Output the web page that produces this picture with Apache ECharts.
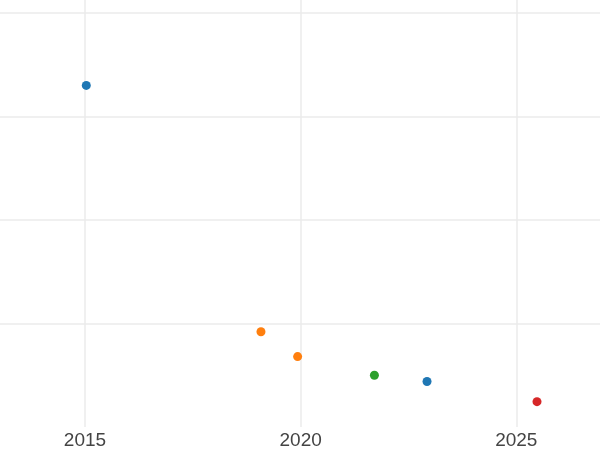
<!DOCTYPE html>
<html>
<head>
<meta charset="utf-8">
<script src="https://cdn.jsdelivr.net/npm/echarts@6/dist/echarts.min.js"></script>
<style>html,body{margin:0;padding:0;background:#fff}#c{width:600px;height:450px}</style>
</head>
<body>
<div id="c"></div>
<script>
const blueYears = [2015.03, 2022.93];
const blueValues = [3.30, 0.44];
const orangeYears = [2019.08, 2019.93];
const orangeValues = [0.92, 0.68];
const greenYears = [2021.71];
const greenValues = [0.50];
const redYears = [2025.48];
const redValues = [0.245];
const xTicks = [2015, 2020, 2025];
const yTicks = [1, 2, 3, 4];

function pts(xs, ys) { return xs.map((x, i) => [x, ys[i]]); }

const chart = echarts.init(document.getElementById('c'), null, {renderer: 'canvas'});
const mk = (name, xs, ys, color) => ({
  name, type: 'scatter', data: pts(xs, ys), symbolSize: 9,
  itemStyle: {color: color, opacity: 1}, emphasis: {disabled: true}
});
chart.setOption({
  animation: false,
  backgroundColor: '#ffffff',
  grid: {left: 0, right: 0, top: 0, bottom: 22.4, containLabel: false},
  xAxis: {
    type: 'value', min: 2013.029, max: 2026.941,
    axisLine: {show: false},
    axisTick: {show: false, customValues: xTicks},
    axisLabel: {
      show: true, color: '#444444', fontSize: 19, fontFamily: 'Liberation Sans', margin: 4,
      customValues: xTicks, formatter: v => String(Math.round(v))
    },
    splitLine: {show: true, showMinLine: true, showMaxLine: true, lineStyle: {color: '#ebebeb', width: 1.5}}
  },
  yAxis: {
    type: 'value', min: 0, max: 4.1253,
    axisLine: {show: false},
    axisTick: {show: false, customValues: yTicks},
    axisLabel: {show: false, customValues: yTicks},
    splitLine: {show: true, lineStyle: {color: '#ebebeb', width: 1.5}}
  },
  series: [
    mk('A', blueYears, blueValues, '#1f77b4'),
    mk('B', orangeYears, orangeValues, '#ff7f0e'),
    mk('C', greenYears, greenValues, '#2ca02c'),
    mk('D', redYears, redValues, '#d62728')
  ]
});
</script>
</body>
</html>
